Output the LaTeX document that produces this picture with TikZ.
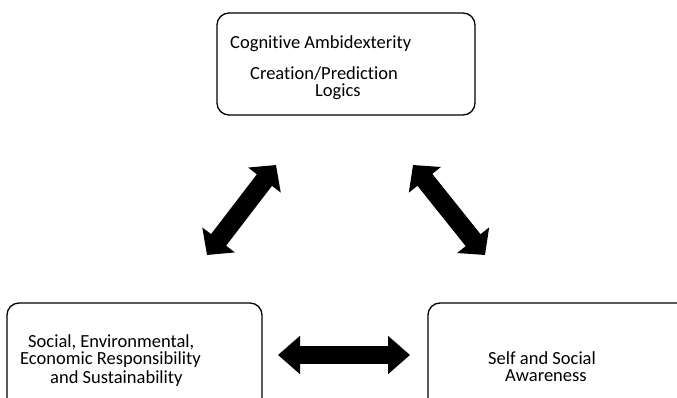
\documentclass[tikz,border=0pt]{standalone}
\usepackage{fontspec}
\setmainfont{Carlito}[RawFeature={-liga}]
\usetikzlibrary{arrows.meta}
\begin{document}
\begin{tikzpicture}[x=1pt,y=-1pt,
  box/.style={draw=black, line width=1.3pt, rounded corners=12pt, inner sep=0pt, outer sep=0pt},
  lbl/.style={anchor=base west, inner sep=0pt, font=\fontsize{18.5}{18}\selectfont},
  dbl/.style={line width=19pt, {Triangle[length=19pt,width=40pt]}-{Triangle[length=19pt,width=40pt]}},
  hdbl/.style={line width=18pt, {Triangle[length=22pt,width=37pt]}-{Triangle[length=22pt,width=37pt]}}]
\useasboundingbox (0,0) rectangle (677,398);
\clip (0,0) rectangle (677,398);
% boxes
\node[box, minimum width=258pt, minimum height=102pt] (top) at (346,64) {};
\node[box, minimum width=255pt, minimum height=127pt] (left) at (134.5,366.5) {};
\node[box, minimum width=282pt, minimum height=127pt] (right) at (569,366.5) {};
% texts
\node[lbl] (t1) at (230,49) {Cognitive Ambidexterity};
\node[lbl] (t2) at (250,80) {Creation/Prediction};
\node[lbl] (t3) at (315,97) {Logics};
\node[lbl] (l1) at (28,347) {Social, Environmental,};
\node[lbl] (l2) at (20,364) {Economic Responsibility};
\node[lbl] (l3) at (50,383) {and Sustainability};
\node[lbl] (r1) at (488,364) {Self and Social};
\node[lbl] (r2) at (505,381) {Awareness};
% arrow ends
\coordinate (a1) at (207,255);
\coordinate (a2) at (276,165);
\coordinate (b1) at (413,165);
\coordinate (b2) at (485,255);
\coordinate (c1) at (278,355);
\coordinate (c2) at (410,355);
\draw[dbl] (a1) -- (a2);
\draw[dbl] (b1) -- (b2);
\draw[hdbl] (c1) -- (c2);
\end{tikzpicture}
\end{document}
